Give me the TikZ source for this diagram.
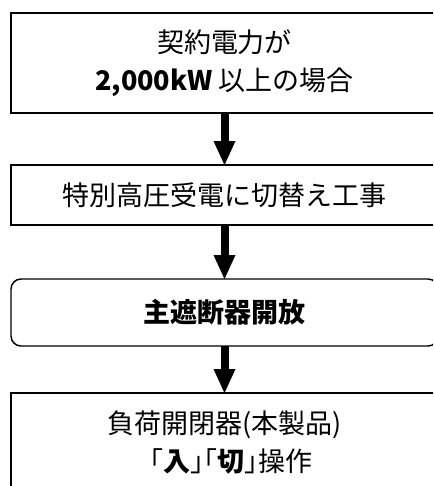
\documentclass[tikz,border=0pt]{standalone}
\usepackage{fontspec}
\setmainfont{Noto Sans CJK JP}
\usetikzlibrary{arrows.meta}
\newcommand{\halfw}[1]{{\addfontfeature{RawFeature=+halt}#1}}
\tikzset{
  flowbox/.style={draw=black, line width=1.1pt, fill=white, inner sep=0pt, outer sep=0pt,
    minimum width=427*0.75pt, align=center, font=\fontsize{20.25pt}{28.5pt}\selectfont},
  roundbox/.style={flowbox, rounded corners=7.5pt},
  flowarrow/.style={line width=6pt, -{Triangle[length=18pt, width=16.5pt, line width=0pt]}},
}
\begin{document}
\begin{tikzpicture}[x=0.75pt, y=-0.75pt]
  \useasboundingbox (0,0) rectangle (433,486);
  \clip (0,0) rectangle (433,486);
  \fill[white] (0,0) rectangle (433,486);
  \node[flowbox, minimum height=100*0.75pt] (b1) at (224.5,63)
    {契約電力が\\{\bfseries 2,000kW} 以上の場合};
  \node[flowbox, minimum height=60*0.75pt] (b2) at (224.5,195)
    {特別高圧受電に切替え工事};
  \node[roundbox, minimum height=67*0.75pt] (b3) at (224.5,312.5)
    {\bfseries 主遮断器開放};
  \node[flowbox, minimum height=100*0.75pt] (b4) at (224.5,443)
    {負荷開閉器(本製品)\\「{\bfseries 入}\halfw{」「}{\bfseries 切}\halfw{」}操作};
  \draw[flowarrow] (b1.south) -- (b2.north);
  \draw[flowarrow] (b2.south) -- (b3.north);
  \draw[flowarrow] (b3.south) -- (b4.north);
\end{tikzpicture}
\end{document}
